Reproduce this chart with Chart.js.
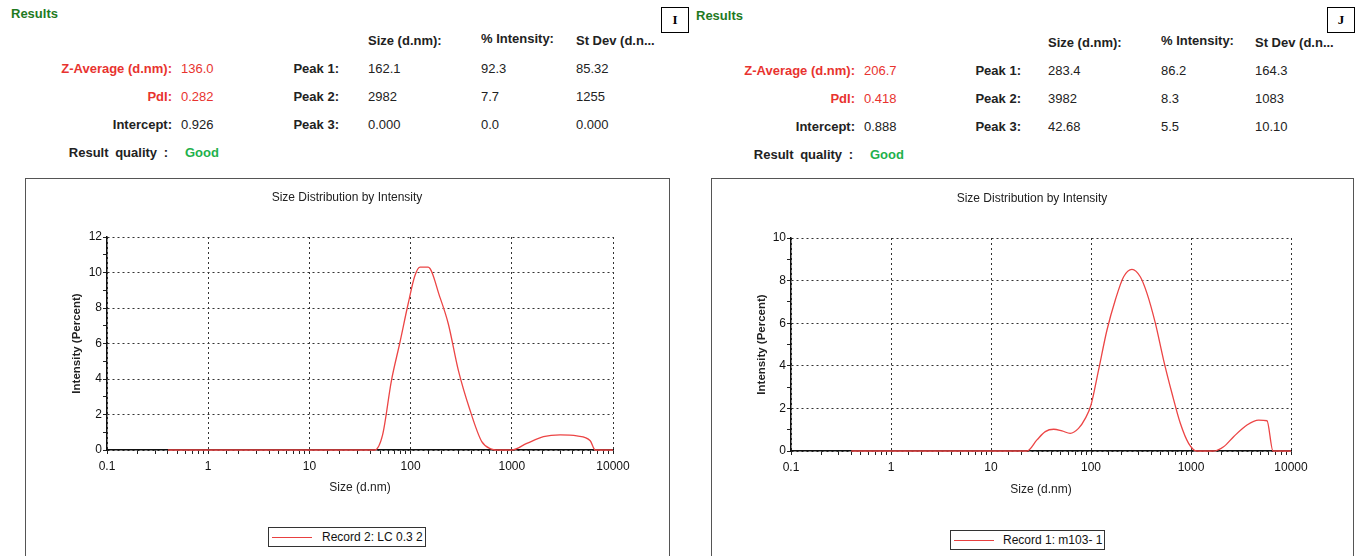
<!DOCTYPE html>
<html>
<head>
<meta charset="utf-8">
<script src="https://cdn.jsdelivr.net/npm/chart.js@4.4.1/dist/chart.umd.min.js"></script>
<style>
body { margin: 0; width: 1356px; height: 556px; overflow: hidden; background: #fff; position: relative;
       font-family: "Liberation Sans", Arial, sans-serif; }
.t { position: absolute; font-size: 13px; line-height: 16px; white-space: nowrap; color: #222; }
.b { font-weight: bold; }
.red { color: #e8332f; }
.verde { color: #1f7a1f; }
.good { color: #22b14c; }
.ancho { word-spacing: 3px; }
.frame { position: absolute; top: 178px; height: 400px; border: 1px solid #555; border-bottom: none; }
.tag { position: absolute; top: 7px; width: 26px; height: 24px; border: 1px solid #000; background: #fff;
       font-family: "Liberation Serif", serif; font-weight: bold; font-size: 13px; text-align: center; line-height: 24px; }
canvas { position: absolute; }
.leyenda { position: absolute; border: 1px solid #333; height: 18px; font-size: 12px; line-height: 18px; color: #111; background: #fff; }
.leyenda i { position: absolute; left: 3px; top: 9px; width: 40px; border-top: 1.5px solid #e84040; }
.leyenda span { position: absolute; }
</style>
</head>
<body>

<div class="frame" style="left:25px; width:643px;"></div>
<div class="frame" style="left:711px; width:641px;"></div>
<div class="tag" style="left:661px;">I</div>
<div class="tag" style="left:1327px;">J</div>

<canvas id="grafico1" width="642" height="377" style="left:26px; top:179px;"></canvas>
<canvas id="grafico2" width="640" height="377" style="left:712px; top:179px;"></canvas>

<div class="leyenda" style="left:268px; top:527px; width:156px;"><i></i><span style="left:53px;">Record 2: LC 0.3 2</span></div>
<div class="leyenda" style="left:950px; top:530px; width:153px;"><i></i><span style="left:52px;">Record 1: m103- 1</span></div>

<script>
/* datos de las curvas (tamaño d.nm / intensidad %) */
var tamanos1 = [0.4, 1, 10, 44, 52.8, 64.6, 78, 94.6, 110, 124, 149, 195, 236, 296, 386, 505, 631, 700, 1000, 1406, 2056, 3006, 4395, 5957, 6683, 10000];
var intens1 = [0, 0, 0, 0, 0.84, 3.9, 6.0, 8.24, 9.8, 10.3, 10.3, 8.6, 7.1, 4.5, 2.25, 0.47, 0.05, 0, 0, 0.37, 0.75, 0.85, 0.79, 0.52, 0, 0];

var tamanos2 = [0.4, 1, 10, 22.9, 28.8, 34.9, 42.3, 51.3, 62, 75, 87.7, 100, 119, 144.5, 175, 212, 257, 311, 363, 440, 532, 646, 782, 946, 1148, 1683, 2119, 2667, 3631, 4747, 5754, 6607, 10000];
var intens2 = [0, 0, 0, 0, 0.52, 0.91, 1.02, 0.94, 0.83, 1.06, 1.53, 2.16, 3.8, 5.68, 7.09, 8.18, 8.53, 8.18, 7.4, 6.0, 4.27, 2.7, 1.3, 0.36, 0, 0, 0.2, 0.67, 1.22, 1.45, 1.42, 0, 0];

var maxY1 = 12;
var maxY2 = 10;

/* tablas de resultados */
var cabecera = ["Size (d.nm):", "% Intensity:", "St Dev (d.n..."];
var etiquetas = ["Z-Average (d.nm):", "PdI:", "Intercept:"];
var picos = ["Peak 1:", "Peak 2:", "Peak 3:"];

var resumen1 = ["136.0", "0.282", "0.926"];
var tamPico1 = ["162.1", "2982", "0.000"];
var intPico1 = ["92.3", "7.7", "0.0"];
var desvPico1 = ["85.32", "1255", "0.000"];

var resumen2 = ["206.7", "0.418", "0.888"];
var tamPico2 = ["283.4", "3982", "42.68"];
var intPico2 = ["86.2", "8.3", "5.5"];
var desvPico2 = ["164.3", "1083", "10.10"];

function texto(txt, x, y, clase, derecha) {
    var d = document.createElement("div");
    d.className = "t " + (clase || "");
    d.textContent = txt;
    d.style.top = (y - 8) + "px";
    if (derecha) {
        d.style.right = (1356 - x) + "px";
    } else {
        d.style.left = x + "px";
    }
    document.body.appendChild(d);
}

function tabla(p, resumen, tam, inten, desv) {
    texto("Results", p.res, p.y0 + 14, "b verde");
    texto(cabecera[0], p.c1, p.y0 + 41, "b");
    texto(cabecera[1], p.c2, p.y0 + 39, "b");
    texto(cabecera[2], p.c3, p.y0 + 41, "b");
    for (var i = 0; i < 3; i++) {
        var y = p.y0 + 69 + i * 28;
        var rojo = i < 2 ? " red" : "";
        texto(etiquetas[i], p.lab, y, "b" + rojo, true);
        texto(resumen[i], p.lab + 9, y, rojo);
        texto(picos[i], p.pk, y, "b", true);
        texto(tam[i], p.c1, y);
        texto(inten[i], p.c2, y);
        texto(desv[i], p.c3, y);
    }
    texto("Result quality :", p.q, p.y0 + 153, "b ancho", true);
    texto("Good", p.q + 17, p.y0 + 153, "b good");
}

tabla({res: 11, y0: 0, lab: 172, pk: 339, c1: 368, c2: 481, c3: 576, q: 168}, resumen1, tamPico1, intPico1, desvPico1);
tabla({res: 696, y0: 2, lab: 855, pk: 1021, c1: 1048, c2: 1161, c3: 1255, q: 853}, resumen2, tamPico2, intPico2, desvPico2);

/* gráficos */
function esDecada(v) {
    var l = Math.log10(v);
    return Math.abs(l - Math.round(l)) < 1e-6;
}

function cargaGrafico(id, xs, ys, maxY, zona) {
    var canvas = document.getElementById(id);
    var W = canvas.width, H = canvas.height;
    var altoX = 50;
    // mismo margen a ambos lados para que el título quede centrado en el marco
    var margen = W - zona.right;
    var anchoY = zona.left - margen;
    var puntos = xs.map(function (x, i) { return {x: x, y: ys[i]}; });

    var config = {
        type: "line",
        data: {
            datasets: [{
                data: puntos,
                borderColor: "#ec4545",
                borderWidth: 1.3,
                pointRadius: 0,
                fill: false,
                clip: false,
                cubicInterpolationMode: "monotone"
            }]
        },
        options: {
            responsive: false,
            animation: false,
            layout: {
                padding: { left: margen, right: margen, top: 0, bottom: H - zona.bottom - altoX }
            },
            plugins: {
                legend: { display: false },
                tooltip: { enabled: false },
                title: {
                    display: true,
                    text: "Size Distribution by Intensity",
                    color: "#222",
                    font: { family: "Liberation Sans", size: 12, weight: "normal", lineHeight: 1.2 },
                    padding: { top: zona.titulo - 7.2, bottom: zona.top - 14.4 - (zona.titulo - 7.2) }
                }
            },
            scales: {
                x: {
                    type: "logarithmic",
                    min: 0.1,
                    max: 10000,
                    afterFit: function (s) { s.height = altoX; },
                    border: { color: "#111", width: 1.5, dash: [2, 3] },
                    grid: {
                        color: function (c) { return c.tick && esDecada(c.tick.value) ? "#333" : "rgba(0,0,0,0)"; },
                        tickColor: "#222",
                        tickLength: 4,
                        lineWidth: 1
                    },
                    ticks: {
                        autoSkip: false,
                        maxRotation: 0,
                        minRotation: 0,
                        padding: 5,
                        color: "#111",
                        font: { family: "Liberation Sans", size: 12 },
                        callback: function (v) {
                            if (!esDecada(v)) return "";
                            return v >= 1 ? String(Math.round(v)) : String(Math.round(v * 10) / 10);
                        }
                    },
                    title: {
                        display: true,
                        text: "Size (d.nm)",
                        color: "#222",
                        font: { family: "Liberation Sans", size: 12, lineHeight: 1.2 },
                        padding: { top: 0, bottom: zona.bottom + altoX - 7.2 - zona.tituloX }
                    }
                },
                y: {
                    min: 0,
                    max: maxY,
                    afterFit: function (s) { s.width = anchoY; },
                    border: { color: "#111", width: 1.5, dash: [2, 3] },
                    grid: {
                        color: function (c) { return c.tick && c.tick.value % 2 === 0 ? "#333" : "rgba(0,0,0,0)"; },
                        tickColor: "#222",
                        tickLength: 4,
                        lineWidth: 1
                    },
                    ticks: {
                        stepSize: 1,
                        autoSkip: false,
                        padding: 1,
                        color: "#111",
                        font: { family: "Liberation Sans", size: 12 },
                        callback: function (v) { return v % 2 === 0 ? String(v) : ""; }
                    },
                    title: {
                        display: true,
                        text: "Intensity (Percent)",
                        color: "#222",
                        font: { family: "Liberation Sans", size: 11.5, weight: "bold", lineHeight: 1.2 },
                        padding: { top: zona.tituloY - margen - 6.9, bottom: 0 }
                    }
                }
            }
        }
    };
    new Chart(canvas.getContext("2d"), config);
}

cargaGrafico("grafico1", tamanos1, intens1, maxY1,
    {left: 81, top: 58, right: 587, bottom: 271, titulo: 19, tituloX: 309, tituloY: 51});
cargaGrafico("grafico2", tamanos2, intens2, maxY2,
    {left: 79, top: 59, right: 579, bottom: 272, titulo: 20, tituloX: 311, tituloY: 50});
</script>
</body>
</html>
